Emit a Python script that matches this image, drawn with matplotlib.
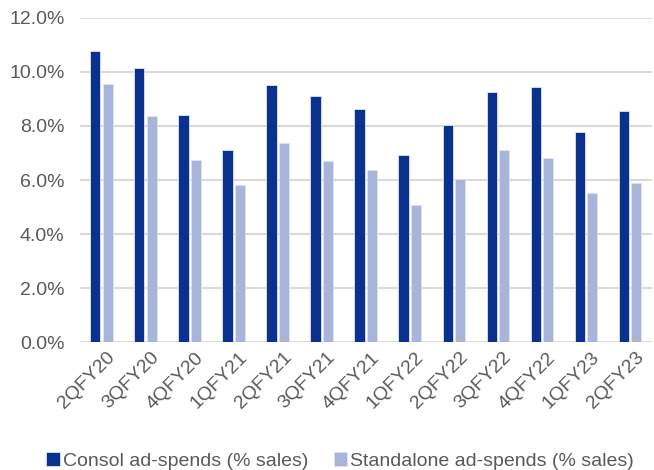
import numpy as np
import matplotlib.pyplot as plt
from matplotlib.ticker import FuncFormatter
from matplotlib.transforms import ScaledTranslation

plt.rcParams['font.family'] = ['Liberation Sans', 'DejaVu Sans']

quarters = ['2QFY20', '3QFY20', '4QFY20', '1QFY21', '2QFY21', '3QFY21', '4QFY21',
            '1QFY22', '2QFY22', '3QFY22', '4QFY22', '1QFY23', '2QFY23']
consol = [10.78, 10.15, 8.42, 7.11, 9.51, 9.10, 8.61, 6.93, 8.03, 9.27, 9.43, 7.78, 8.54]
standalone = [9.57, 8.37, 6.73, 5.80, 7.36, 6.72, 6.36, 5.09, 6.05, 7.11, 6.83, 5.52, 5.88]

grey = '#595959'
fig = plt.figure(figsize=(6.54, 4.70), dpi=100)
ax = fig.add_axes([0.122, 0.272, 0.875, 0.69])

x = np.arange(len(quarters))
w = 0.23
ax.bar(x - w / 2 - 0.03, consol, w, color='#0b318f', edgecolor='#dde3f0', linewidth=0.6,
       label='Consol ad-spends (% sales)', zorder=3)
ax.bar(x + w / 2 + 0.03, standalone, w, color='#a8b4da', edgecolor='#dde3f0', linewidth=0.6,
       label='Standalone ad-spends (% sales)', zorder=3)

ax.set_xlim(-0.5, len(quarters) - 0.5)
ax.set_ylim(0, 12)
ax.set_yticks(np.arange(0, 12.1, 2))
ax.yaxis.set_major_formatter(FuncFormatter(lambda v, p: f'{v:.1f}%'))
ax.yaxis.grid(True, color='#d9d9d9', linewidth=1.5, zorder=0)
for s in ['top', 'right', 'left', 'bottom']:
    ax.spines[s].set_visible(False)
ax.tick_params(axis='both', length=0, colors=grey, labelsize=14)
ax.tick_params(axis='y', pad=11)
ax.tick_params(axis='x', pad=5)
ax.set_xticks(x)
ax.set_xticklabels(quarters, rotation=45, ha='right', va='top', rotation_mode='anchor')
# nudge rotated labels a little to the right
for lbl in ax.get_xticklabels():
    lbl.set_transform(lbl.get_transform() + ScaledTranslation(0.05, 0, fig.dpi_scale_trans))

leg = ax.legend(loc='upper center', bbox_to_anchor=(0.455, -0.285), ncol=2, frameon=False,
                fontsize=14, handlelength=0.7, handleheight=0.7, handletextpad=0.15,
                columnspacing=1.3, labelcolor=grey)

fig.savefig('out.png', dpi=100)
